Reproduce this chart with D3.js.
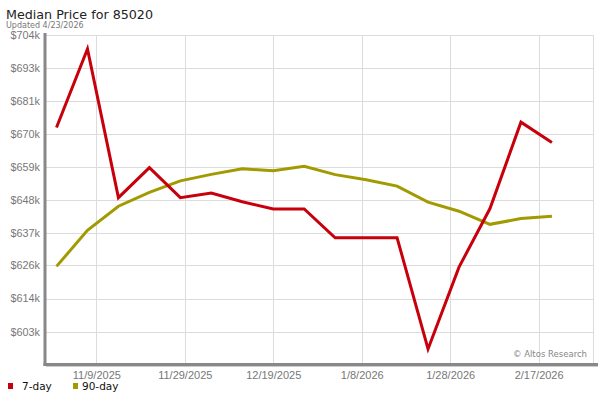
<!DOCTYPE html>
<html>
<head>
<meta charset="utf-8">
<script src="https://cdn.jsdelivr.net/npm/d3@7"></script>
<style>
  body { margin: 0; background: #fff; }
  svg { font-family: "DejaVu Sans", sans-serif; }
</style>
</head>
<body>
<svg id="chart" width="600" height="400"></svg>
<script>
// weekly dates, values in $k
const dates = ["2025-10-31","2025-11-07","2025-11-14","2025-11-21","2025-11-28","2025-12-05",
  "2025-12-12","2025-12-19","2025-12-26","2026-01-02","2026-01-09","2026-01-16",
  "2026-01-23","2026-01-30","2026-02-06","2026-02-13","2026-02-20"]
const day7 = [672.4, 699.0, 648.6, 658.8, 648.6, 650.2, 647.2, 644.75, 644.75, 635.0, 635.0, 635.0,
  597.3, 625.05, 644.9, 674.2, 667.3]
const day90 = [625.3, 637.5, 645.7, 650.4, 654.3, 656.5, 658.4, 657.7, 659.25, 656.4, 654.7, 652.5,
  647.1, 644.0, 639.55, 641.5, 642.3]
const yTicks = [603.2, 614.4, 625.6, 636.7, 647.9, 659.1, 670.2, 681.4, 692.6, 703.75]
const xTicks = ["2025-11-09","2025-11-29","2025-12-19","2026-01-08","2026-01-28","2026-02-17"]
const seriesNames = ["7-day", "90-day"]
const colors = ["#c8000c", "#a29a00"]

const parse = d3.timeParse("%Y-%m-%d")
let svg = d3.select("#chart")
let pLeft = 46, pRight = 593, pTop = 35, pBottom = 364

let x = d3.scaleTime()
    .domain([new Date(2025, 9, 28, 15), new Date(2026, 2, 1, 7)])
    .range([pLeft, pRight])
let y = d3.scaleLinear()
    .domain([592.2, 703.75])
    .range([pBottom, pTop])

// gridlines
svg.append("g").selectAll("line").data(yTicks).enter().append("line")
    .attr("x1", pLeft).attr("x2", pRight)
    .attr("y1", d => Math.round(y(d)) + 0.5).attr("y2", d => Math.round(y(d)) + 0.5)
    .style("stroke", "#dcdcdc")
svg.append("g").selectAll("line").data(xTicks).enter().append("line")
    .attr("x1", d => Math.round(x(parse(d))) + 0.5).attr("x2", d => Math.round(x(parse(d))) + 0.5)
    .attr("y1", pTop).attr("y2", pBottom)
    .style("stroke", "#dcdcdc")
svg.append("line")
    .attr("x1", pRight + 0.5).attr("x2", pRight + 0.5).attr("y1", pTop).attr("y2", pBottom)
    .style("stroke", "#dcdcdc")

// axes
let yAxis = svg.append("g").attr("transform", "translate(" + (pLeft - 1) + ",0)")
    .call(d3.axisLeft(y).tickValues(yTicks).tickSize(0).tickPadding(5)
        .tickFormat(d => "$" + Math.round(d) + "k"))
yAxis.select(".domain").remove()
yAxis.selectAll("text").style("fill", "#777").style("font-size", "10.8px")

let xAxis = svg.append("g").attr("transform", "translate(0," + (pBottom + 2) + ")")
    .call(d3.axisBottom(x).tickValues(xTicks.map(parse)).tickSize(0).tickPadding(5)
        .tickFormat(d3.timeFormat("%-m/%-d/%Y")))
xAxis.select(".domain").remove()
xAxis.selectAll("text").style("fill", "#777").style("font-size", "11px")

svg.append("line")
    .attr("x1", pLeft - 1).attr("x2", pLeft - 1).attr("y1", pTop - 2).attr("y2", pBottom + 2)
    .style("stroke", "#888").style("stroke-width", 3)
svg.append("line")
    .attr("x1", pLeft - 2.5).attr("x2", 598).attr("y1", pBottom + 0.5).attr("y2", pBottom + 0.5)
    .style("stroke", "#888").style("stroke-width", 3)
svg.append("line")
    .attr("x1", pLeft).attr("x2", 598).attr("y1", pBottom + 2.5).attr("y2", pBottom + 2.5)
    .style("stroke", "#ccc").style("stroke-width", 1)

// lines
let line = d3.line().x(d => x(d.date)).y(d => y(d.v))
;[day90, day7].forEach((vals, i) => {
    let data = vals.map((v, j) => ({date: parse(dates[j]), v: v}))
    svg.append("path").datum(data)
        .attr("d", line)
        .style("fill", "none")
        .style("stroke", i == 0 ? colors[1] : colors[0])
        .style("stroke-width", 3)
        .style("stroke-linejoin", "miter")
})

// titles
svg.append("text").attr("x", 6).attr("y", 19).text("Median Price for 85020")
    .style("font-size", "12.7px").style("fill", "#222")
svg.append("text").attr("x", 6).attr("y", 28).text("Updated 4/23/2026")
    .style("font-size", "8px").style("fill", "#777")
svg.append("text").attr("x", 587).attr("y", 357).attr("text-anchor", "end")
    .text("\u00a9 Altos Research")
    .style("font-size", "8.5px").style("fill", "#888")

// legend
let legX = [8, 73], legTextX = [14, 9]
let leg = svg.append("g").selectAll("g").data(seriesNames).enter().append("g")
    .attr("transform", (d, i) => "translate(" + legX[i] + ",383)")
leg.append("rect").attr("width", 5).attr("height", 6).style("fill", (d, i) => colors[i])
leg.append("text").attr("x", (d, i) => legTextX[i]).attr("y", 7).text(d => d)
    .style("font-size", "10.5px").style("fill", "#111")
</script>
</body>
</html>
